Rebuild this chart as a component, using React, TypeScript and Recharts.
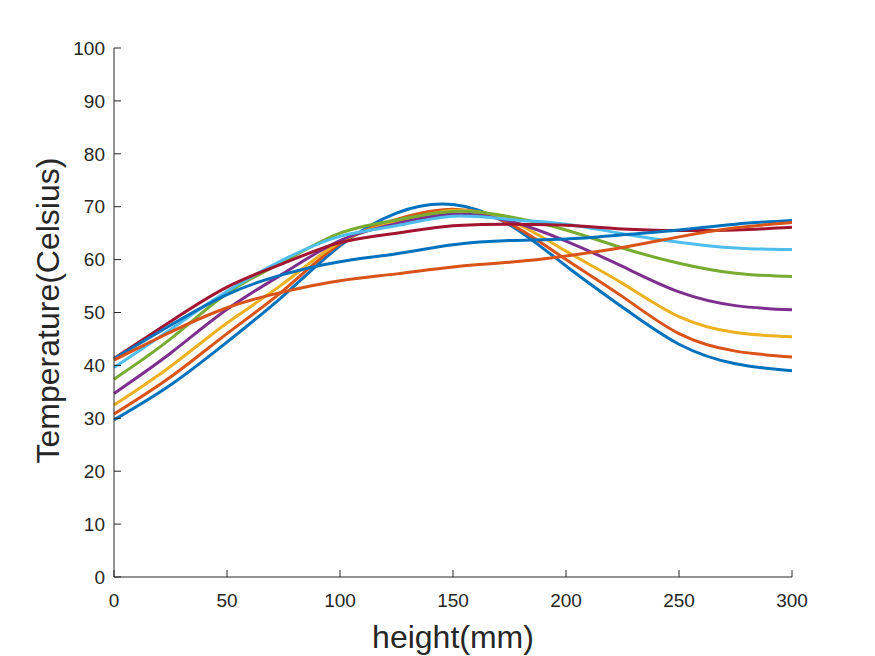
import { Label, Line, LineChart, XAxis, YAxis } from "recharts";

// height positions (mm)
const heights = [0, 25, 50, 75, 100, 125, 150, 175, 200, 225, 250, 275, 300];

// temperature curves (Celsius)
const t1 = [29.7, 36.3, 44.4, 53.2, 62.6, 68.8, 70.4, 66.6, 58.8, 51.0, 44.0, 40.3, 39.0];
const t2 = [30.8, 37.8, 46.0, 54.2, 63.0, 67.6, 69.5, 66.8, 60.0, 53.0, 46.0, 42.7, 41.6];
const t3 = [32.5, 39.8, 48.0, 55.5, 63.3, 67.1, 69.3, 67.4, 61.6, 55.5, 49.2, 46.2, 45.4];
const t4 = [34.7, 42.3, 50.6, 57.4, 63.6, 66.8, 68.6, 67.3, 63.5, 58.7, 53.9, 51.3, 50.5];
const t5 = [37.4, 45.0, 53.6, 59.6, 65.0, 67.5, 69.1, 68.1, 65.6, 62.2, 59.3, 57.4, 56.8];
const t6 = [39.6, 46.8, 54.0, 60.0, 64.4, 66.4, 68.2, 67.6, 66.7, 64.9, 63.3, 62.2, 61.9];
const t7 = [41.3, 48.3, 54.8, 59.3, 63.2, 65.0, 66.4, 66.7, 66.5, 65.8, 65.5, 65.6, 66.1];
const t8 = [41.3, 47.6, 53.4, 57.2, 59.6, 61.1, 62.8, 63.6, 63.9, 64.7, 65.6, 66.7, 67.4];
const t9 = [41.0, 46.3, 50.9, 53.9, 56.0, 57.3, 58.6, 59.5, 60.7, 62.3, 64.3, 66.0, 67.0];

const series = [t1, t2, t3, t4, t5, t6, t7, t8, t9];
const colors = [
  "#0072BD",
  "#D95319",
  "#EDB120",
  "#7E2F8E",
  "#77AC30",
  "#4DBEEE",
  "#A2142F",
  "#0072BD",
  "#D95319",
];

const xTicks = [0, 50, 100, 150, 200, 250, 300];
const yTicks = [0, 10, 20, 30, 40, 50, 60, 70, 80, 90, 100];

const rows = heights.map((h, i) => {
  const row: Record<string, number> = { h };
  series.forEach((s, k) => {
    row[`s${k}`] = s[i];
  });
  return row;
});

const font = "'Liberation Sans', Arial, Helvetica, sans-serif";
const ink = "#262626";

export default function App() {
  return (
    <div style={{ position: "absolute", left: 0, top: 0, background: "#fff" }}>
      <LineChart
        width={875}
        height={656}
        data={rows}
        margin={{ top: 48, right: 83, bottom: 49, left: 0 }}
      >
        <XAxis
          dataKey="h"
          type="number"
          domain={[0, 300]}
          ticks={xTicks}
          tickSize={-7}
          tickMargin={24}
          stroke={ink}
          tick={{ fill: ink, fontSize: 19, fontFamily: font }}
          height={30}
        >
          <Label
            content={({ viewBox }: any) => (
              <text
                x={viewBox.x + viewBox.width / 2}
                y={637}
                textAnchor="middle"
                dominantBaseline="central"
                fill={ink}
                fontSize={32}
                fontFamily={font}
              >
                height(mm)
              </text>
            )}
          />
        </XAxis>
        <YAxis
          type="number"
          domain={[0, 100]}
          ticks={yTicks}
          width={114}
          tickSize={-7}
          tickMargin={16}
          stroke={ink}
          tick={{ fill: ink, fontSize: 19, fontFamily: font }}
        >
          <Label
            content={({ viewBox }: any) => {
              const cy = viewBox.y + viewBox.height / 2 - 2;
              return (
                <text
                  x={48}
                  y={cy}
                  transform={`rotate(-90 48 ${cy})`}
                  textAnchor="middle"
                  dominantBaseline="central"
                  fill={ink}
                  fontSize={32}
                  fontFamily={font}
                >
                  Temperature(Celsius)
                </text>
              );
            }}
          />
        </YAxis>
        {series.map((_, k) => (
          <Line
            key={k}
            type="natural"
            dataKey={`s${k}`}
            stroke={colors[k]}
            strokeWidth={3}
            dot={false}
            isAnimationActive={false}
          />
        ))}
      </LineChart>
    </div>
  );
}
